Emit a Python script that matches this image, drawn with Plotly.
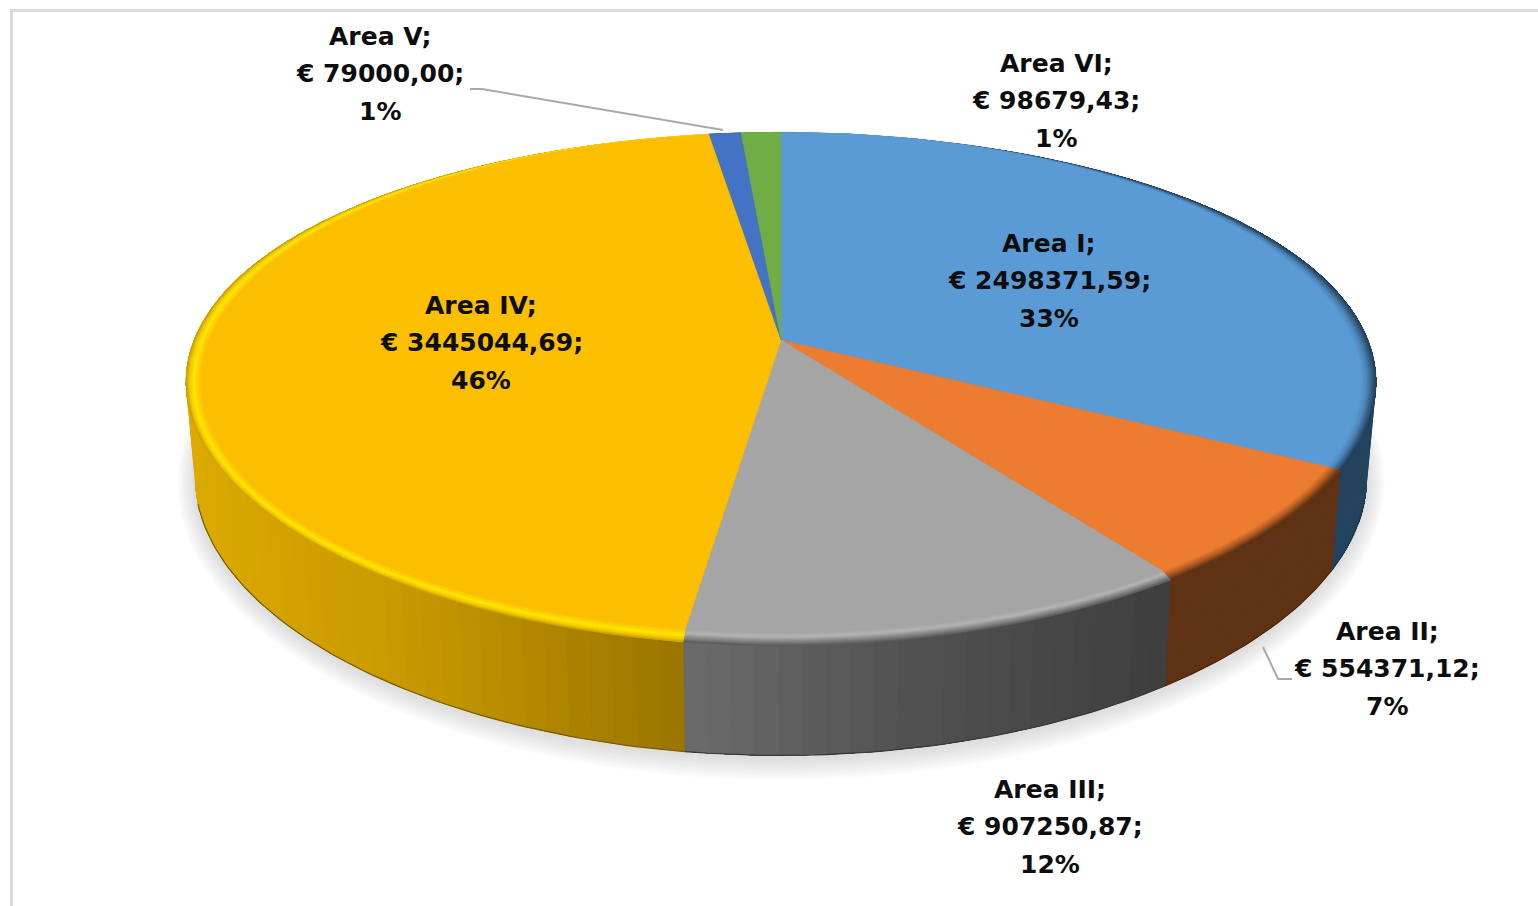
import math
import plotly.graph_objects as go

# ---- data ----
names = ["Area I", "Area II", "Area III", "Area IV", "Area V", "Area VI"]
values = [2498371.59, 554371.12, 907250.87, 3445044.69, 79000.00, 98679.43]
percents = [33, 7, 12, 46, 1, 1]

# ---- styles ----
top_colors = ["#5B9BD5", "#EB7C30", "#A5A5A5", "#FBBF00", "#4472C4", "#70AD47"]
rim_stops = [
    [(0, "#5B9BD5"), (.4, "#4F86B8"), (1, "#23425E")],
    [(0, "#EB7C30"), (.45, "#B86025"), (1, "#5F3214")],
    [(0, "#A5A5A5"), (.35, "#B4B4B4"), (.7, "#868686"), (1, "#5E5E5E")],
    [(0, "#FBBF00"), (.5, "#FFE600"), (.8, "#F0C800"), (1, "#D0A000")],
    [(0, "#4472C4"), (1, "#2A4A80")],
    [(0, "#70AD47"), (1, "#47702C")],
]
wall_stops = [
    [(1300, "#23425E"), (1400, "#23425E")],
    [(1150, "#5F3214"), (1350, "#5F3214")],
    [(683, "#6C6C6C"), (900, "#525252"), (1170, "#3E3E3E")],
    [(190, "#DCAA00"), (400, "#C89A00"), (685, "#9A7400")],
    [(600, "#2A4A80"), (800, "#2A4A80")],
    [(600, "#47702C"), (800, "#47702C")],
]
edge_colors = ["#1B3449", "#4A260F", "#383838", "#7A5C00", "#223C68", "#38591F"]
label_pos = [(1049, 243), (1387, 631), (1050, 789), (481, 305), (380, 36), (1056, 63)]
line_gaps = (0, 37, 75)

# projection of the pie's disc (perspective): (a, b, k, y of apex, k for x)
FLAT = (572, 243, .170, 340, .170)
OUTER = (587, 247, .192, 340, .165)
BASE = (578, 262, .190, 432, .165)
CX = 781


def project(theta, ring):
    a, b, k, y0, kx = ring
    u, v = math.sin(theta), -math.cos(theta)
    return CX + a * u / (1 - kx * v), y0 + b * v / (1 - k * v)


def mix(c1, c2, t):
    p = [int(c1[i:i + 2], 16) for i in (1, 3, 5)]
    q = [int(c2[i:i + 2], 16) for i in (1, 3, 5)]
    return "#%02X%02X%02X" % tuple(round(p[i] + (q[i] - p[i]) * t) for i in range(3))


def ramp(stops, t):
    if t <= stops[0][0]:
        return stops[0][1]
    for (t0, c0), (t1, c1) in zip(stops, stops[1:]):
        if t <= t1:
            return mix(c0, c1, (t - t0) / (t1 - t0))
    return stops[-1][1]


def lerp_ring(r1, r2, t):
    return tuple(r1[i] + (r2[i] - r1[i]) * t for i in range(5))


def poly(fig, xs, ys, color, width=0.0):
    fig.add_trace(go.Scatter(x=xs, y=ys, mode="lines", fill="toself", fillcolor=color,
                             line=dict(color=color, width=width), hoverinfo="skip",
                             showlegend=False))


total = sum(values)
edges = [0.0]
for val in values:
    edges.append(edges[-1] + val / total * 2 * math.pi)

fig = go.Figure()

# soft shadow beneath the pie
N_SH = 14
full = [2 * math.pi * i / 180 for i in range(181)]
for i in range(N_SH, -1, -1):
    t = i / N_SH
    ring = (BASE[0] + 19 * t, BASE[1] + 19 * t, BASE[2], BASE[3] + 3, BASE[4])
    pts = [project(th, ring) for th in full]
    poly(fig, [p[0] for p in pts], [p[1] for p in pts], mix("#DEDEDE", "#FFFFFF", t ** 1.2))

# side wall: each gradient strip runs on to the end of its slice and the next strip paints over it
STEP = math.radians(2)
for s in range(len(values)):
    t0, t1 = edges[s], edges[s + 1]
    n = max(1, round((t1 - t0) / STEP))
    for j in range(n):
        a0 = t0 + (t1 - t0) * j / n
        a1 = t0 + (t1 - t0) * (j + 1) / n
        if -math.cos((a0 + a1) / 2) < -0.12 and -math.cos(t1) < -0.12:
            continue
        m = n - j
        arc = [a0 + (t1 - a0) * q / m for q in range(m + 1)]
        top = [project(th, OUTER) for th in arc]
        bot = [project(th, BASE) for th in reversed(arc)]
        xm = sum(project(th, BASE)[0] + project(th, OUTER)[0] for th in (a0, a1)) / 4
        xs = [p[0] for p in top + bot]
        ys = [p[1] for p in top + bot]
        poly(fig, xs + xs[:1], ys + ys[:1], ramp(wall_stops[s], xm))
    # dark lower edge of the wall (only where it lies on the silhouette)
    arc = [t0 + (t1 - t0) * j / max(n * 2, 2) for j in range(max(n * 2, 2) + 1)]
    arc = [th for th in arc if -math.cos(th) > 0.25]
    if arc:
        pts = [project(th, BASE) for th in arc]
        fig.add_trace(go.Scatter(x=[p[0] for p in pts], y=[p[1] for p in pts], mode="lines",
                                 line=dict(color=edge_colors[s], width=1.2), hoverinfo="skip",
                                 showlegend=False))

# bevel bands and flat top of each slice
N_BANDS = 10
for i in range(N_BANDS, -1, -1):
    t = i / N_BANDS
    ring = lerp_ring(FLAT, OUTER, t)
    for s in range(len(values)):
        t0, t1 = edges[s], edges[s + 1]
        n = max(2, int((t1 - t0) / math.radians(1.5)))
        pts = [project(t0 + (t1 - t0) * j / n, ring) for j in range(n + 1)]
        xs = [CX] + [p[0] for p in pts] + [CX]
        ys = [ring[3]] + [p[1] for p in pts] + [ring[3]]
        poly(fig, xs, ys, ramp(rim_stops[s], t) if i else top_colors[s], 0.4)

# labels, one line at a time so the line spacing follows the reference
for s, nm in enumerate(names):
    euro = f"{values[s]:.2f}".replace(".", ",")
    lines = [f"{nm};", f"€ {euro};", f"{percents[s]}%"]
    lx, ly = label_pos[s]
    for gap, line in zip(line_gaps, lines):
        fig.add_annotation(x=lx, y=ly + gap, text=line, showarrow=False, xanchor="center",
                           yanchor="middle",
                           font=dict(family="DejaVu Sans", size=25, color="#0D0D0D", weight="bold"))

leader = dict(color="#A9A9A9", width=2)
shapes = [
    dict(type="line", x0=12, x1=1538, y0=10.5, y1=10.5, line=dict(color="#DADADA", width=3)),
    dict(type="line", x0=11.5, x1=11.5, y0=9, y1=906, line=dict(color="#DADADA", width=3)),
    dict(type="path", path="M 470 89 L 482 89 L 723 130", line=leader),
    dict(type="path", path="M 1263 647 L 1278 679 L 1292 679", line=leader),
]

fig.update_layout(
    width=1538, height=906, margin=dict(l=0, r=0, t=0, b=0),
    paper_bgcolor="#FFFFFF", plot_bgcolor="#FFFFFF", showlegend=False, shapes=shapes,
    xaxis=dict(range=[0, 1538], visible=False, fixedrange=True),
    yaxis=dict(range=[906, 0], visible=False, fixedrange=True),
)
fig.write_html("out.html", config=dict(displayModeBar=False),
               post_script="document.body.style.margin='0';document.body.style.overflow='hidden';")
